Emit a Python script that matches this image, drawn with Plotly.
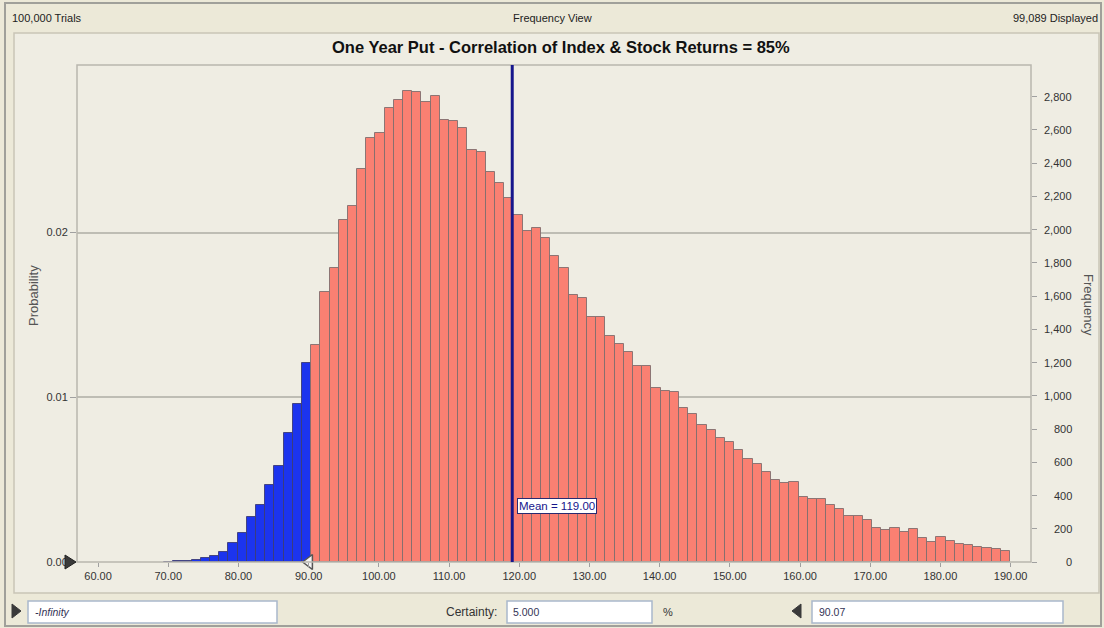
import numpy as np
import plotly.graph_objects as go

# ---------------- data ----------------
trials = 100000
displayed = 99089
mean_value = 119.00
certainty_pct = 5.000
lower_bound_text = "-Infinity"
upper_bound = 90.07
title_text = "One Year Put - Correlation of Index & Stock Returns = 85%"

bin_width = 1.31
tail_first_edge = 69.39  # lower edge of the first (left-tail) bin

# left tail (below the certainty bound) - blue
blue_freq = [3, 5, 8, 15, 22, 35, 60, 115, 175, 270, 343, 464, 578, 775, 950, 1200]
# remainder - salmon
red_freq = [1307, 1622, 1769, 2058, 2139, 2366, 2550, 2580, 2731, 2777,
            2833, 2827, 2765, 2803, 2661, 2652, 2610, 2476, 2466, 2345,
            2279, 2191, 2089, 1994, 2008, 1950, 1843, 1769, 1607, 1589,
            1472, 1472, 1361, 1311, 1265, 1181, 1177, 1046, 1030, 1020,
            929, 893, 825, 795, 745, 719, 673, 619, 592, 544,
            492, 478, 484, 392, 378, 378, 341, 321, 277, 277,
            251, 203, 191, 207, 181, 201, 143, 122, 151, 127,
            110, 101, 90, 86, 77, 66]

x_ticks = list(range(60, 191, 10))
freq_ticks = list(range(0, 2801, 200))
prob_ticks = [0.0, 0.01, 0.02]

x_range = [57.0, 192.9]
freq_range = [0, 2990]

# ---------------- layout geometry (pixels) ----------------
W, H = 1104, 628
PL, PR, PT, PB = 77, 1031, 65, 562
FONT = "Liberation Sans, Arial, sans-serif"


def px_x(p):
    return (p - PL) / (PR - PL)


def px_y(p):
    return (PB - p) / (PB - PT)


blue_x = [tail_first_edge + bin_width * (i + 0.5) for i in range(len(blue_freq))]
red_x = [tail_first_edge + bin_width * (len(blue_freq) + k + 0.5) for k in range(len(red_freq))]

fig = go.Figure()
fig.add_trace(go.Bar(
    x=blue_x, y=blue_freq, width=bin_width,
    marker=dict(color="rgb(28,52,238)", line=dict(color="rgba(60,60,120,0.9)", width=1)),
    showlegend=False, hoverinfo="x+y"))
fig.add_trace(go.Bar(
    x=red_x, y=red_freq, width=bin_width,
    marker=dict(color="rgb(250,128,114)", line=dict(color="rgba(130,110,110,0.9)", width=1)),
    showlegend=False, hoverinfo="x+y"))
# probability axis carrier (invisible)
fig.add_trace(go.Scatter(x=[None], y=[None], yaxis="y2", showlegend=False, hoverinfo="skip"))
# certainty grabber at the upper bound
fig.add_trace(go.Scatter(
    x=[upper_bound], y=[0], mode="markers", cliponaxis=False, showlegend=False, hoverinfo="skip",
    marker=dict(symbol="triangle-left", size=13, color="#F4F4F4", line=dict(color="#555555", width=1.5))))

shapes = []
# outer window border
shapes.append(dict(type="rect", xref="paper", yref="paper",
                   x0=px_x(5), x1=px_x(1101), y0=px_y(626), y1=px_y(3),
                   line=dict(color="#A0A09A", width=2), fillcolor="rgba(0,0,0,0)", layer="below"))
# inner chart panel
shapes.append(dict(type="rect", xref="paper", yref="paper",
                   x0=px_x(14), x1=px_x(1099), y0=px_y(593), y1=px_y(33),
                   line=dict(color="#C9C5B6", width=1.5), fillcolor="#EFEDE3", layer="below"))
# plot frame
shapes.append(dict(type="rect", xref="paper", yref="paper", x0=0, x1=1, y0=0, y1=1,
                   line=dict(color="#B9B7AE", width=1.5), fillcolor="rgba(0,0,0,0)", layer="above"))
# mean line
shapes.append(dict(type="line", xref="x", yref="paper", x0=mean_value, x1=mean_value, y0=0, y1=1,
                   line=dict(color="rgb(22,22,140)", width=3), layer="above"))
# text boxes
for x0, x1 in [(28, 277), (507, 652), (812, 1063)]:
    shapes.append(dict(type="rect", xref="paper", yref="paper",
                       x0=px_x(x0), x1=px_x(x1), y0=px_y(623), y1=px_y(601),
                       line=dict(color="#A9B8CC", width=1.5), fillcolor="#FFFFFF", layer="above"))
# lower-bound grabber (-Infinity) at the left edge of the plot
shapes.append(dict(type="path", xref="paper", yref="paper",
                   path=f"M {px_x(65)} {px_y(555)} L {px_x(76)} {px_y(562)} L {px_x(65)} {px_y(569)} Z",
                   fillcolor="#3A3A3A", line=dict(color="#222222", width=1), layer="above"))
# bottom triangles
shapes.append(dict(type="path", xref="paper", yref="paper",
                   path=f"M {px_x(12)} {px_y(604)} L {px_x(21)} {px_y(611)} L {px_x(12)} {px_y(618)} Z",
                   fillcolor="#3A3A3A", line=dict(color="#3A3A3A", width=1), layer="above"))
shapes.append(dict(type="path", xref="paper", yref="paper",
                   path=f"M {px_x(801)} {px_y(604)} L {px_x(792)} {px_y(611)} L {px_x(801)} {px_y(618)} Z",
                   fillcolor="#3A3A3A", line=dict(color="#3A3A3A", width=1), layer="above"))

ann = []


def txt(text, x, y, anchor="left", size=10, color="#222222", **kw):
    ann.append(dict(text=text, x=px_x(x), y=px_y(y), xref="paper", yref="paper",
                    xanchor=anchor, yanchor="middle", showarrow=False,
                    font=dict(family=FONT, size=size, color=color), **kw))


txt(f"{trials:,} Trials", 10, 18, size=11)
txt("Frequency View", 552, 18, anchor="center", size=11)
txt(f"{displayed:,} Displayed", 1100, 18, anchor="right", size=11)
txt(f"<b>{title_text}</b>", 561, 47, anchor="center", size=16.5, color="#111111")
txt("Probability", 33, 296, anchor="center", size=13, color="#555555", textangle=-90)
txt("Frequency", 1089, 305, anchor="center", size=13, color="#555555", textangle=90)
txt(f"<i>{lower_bound_text}</i>", 33, 612, size=10.5, color="#333355")
txt("Certainty:", 499, 612, anchor="right", size=12, color="#333333")
txt(f"{certainty_pct:.3f}", 511, 612, size=10.5, color="#333355")
txt("%", 668, 612, anchor="center", size=11, color="#333333")
txt(f"{upper_bound:.2f}", 817, 612, size=10.5, color="#333355")

# right-aligned frequency tick labels
for v in freq_ticks:
    ann.append(dict(text=f"{v:,}", x=px_x(1074), y=v, xref="paper", yref="y",
                    xanchor="right", yanchor="middle", showarrow=False,
                    font=dict(family=FONT, size=11, color="#333333")))

# mean label
ann.append(dict(text=f"Mean = {mean_value:.2f}", x=mean_value, y=335, xref="x", yref="y",
                xanchor="left", yanchor="middle", xshift=5, showarrow=False,
                bgcolor="#FFFFFF", bordercolor="#2A2A70", borderwidth=1, borderpad=1,
                font=dict(family=FONT, size=11.5, color="rgb(22,22,140)")))

fig.update_layout(
    width=W, height=H,
    margin=dict(l=PL, r=W - PR, t=PT, b=H - PB, pad=0),
    paper_bgcolor="#ECE9D8",
    plot_bgcolor="#FFFFF4",
    font=dict(family=FONT, size=11, color="#333333"),
    bargap=0,
    barmode="overlay",
    showlegend=False,
    shapes=shapes,
    annotations=ann,
    xaxis=dict(range=x_range, tickvals=x_ticks, tickformat=".2f",
               ticks="outside", ticklen=4, tickcolor="#A0A0A0", showgrid=False,
               zeroline=False, showline=False, fixedrange=True,
               tickfont=dict(family=FONT, size=11, color="#333333")),
    yaxis=dict(range=freq_range, tickvals=freq_ticks, side="right",
               ticks="outside", ticklen=5, tickcolor="#A0A0A0", showticklabels=False,
               showgrid=False, zeroline=False, showline=False, fixedrange=True),
    yaxis2=dict(range=[freq_range[0] / displayed, freq_range[1] / displayed],
                overlaying="y", side="left", tickvals=prob_ticks, tickformat=".2f",
                ticks="outside", ticklen=6, tickcolor="#A0A0A0",
                showgrid=True, gridcolor="#BEBDB4", gridwidth=1.5,
                zeroline=False, showline=False, fixedrange=True,
                tickfont=dict(family=FONT, size=11, color="#333333")),
)

fig.write_html("out.html", config={"displayModeBar": False},
               post_script="document.body.style.margin='0';document.body.style.overflow='hidden';")
